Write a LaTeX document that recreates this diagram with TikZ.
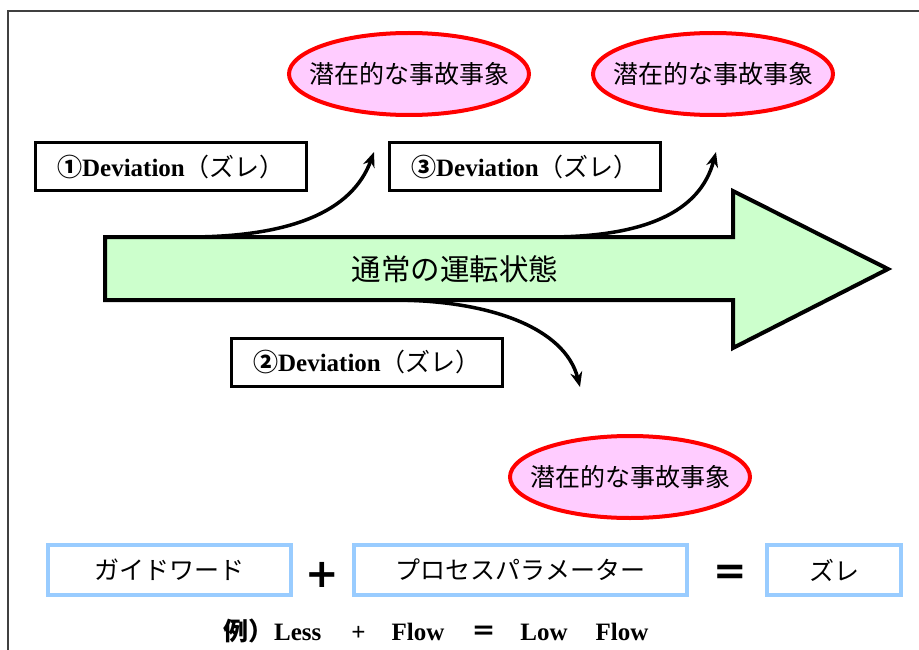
\documentclass[tikz,border=0pt]{standalone}
\usepackage{fontspec}
\setmainfont{Liberation Serif}
\newfontfamily\jp{Noto Sans CJK JP}
\newfontfamily\symfont{DejaVu Sans}
\usetikzlibrary{arrows.meta,shapes.geometric}
\definecolor{evfill}{HTML}{FFCCFF}
\definecolor{flowfill}{HTML}{CCFFCC}
\definecolor{gwblue}{HTML}{99CCFF}
\begin{document}
\begin{tikzpicture}[x=1pt,y=-1pt,
  frameline/.style={line width=1.5pt, draw=black!75},
  devbox/.style={draw=black, line width=3pt, minimum width=271pt, minimum height=48pt,
    inner sep=0pt, font=\fontsize{25}{28}\selectfont\bfseries},
  event/.style={ellipse, draw=red, fill=evfill, line width=4pt, minimum width=240pt,
    minimum height=82pt, inner sep=0pt},
  evtext/.style={inner sep=0pt, font=\jp\fontsize{25}{28}\selectfont},
  gwbox/.style={draw=gwblue, line width=4pt, minimum height=50pt, inner sep=0pt,
    font=\jp\fontsize{25}{28}\selectfont},
  devarrow/.style={line width=3.5pt, -{Stealth[length=15pt,width=12pt]}},
  bigsym/.style={inner sep=0pt, font=\symfont\bfseries\fontsize{40}{40}\selectfont}]
\useasboundingbox (0,0) rectangle (919,650);
% outer frame
\draw[frameline] (8,650) -- (8,11) -- (919,11);

% events
\node[event] (ev1) at (409,74) {};
\node[evtext] at (ev1.center) {潜在的な事故事象};
\node[event] (ev3) at (713,74) {};
\node[evtext] at (ev3.center) {潜在的な事故事象};
\node[event] (ev2) at (630,477) {};
\node[evtext] at (ev2.center) {潜在的な事故事象};

% deviation boxes
\node[devbox] (d1) at (171,167) {{\jp ①}Deviation{\jp\mdseries （ズレ）}};
\node[devbox] (d3) at (525,167) {{\jp ③}Deviation{\jp\mdseries （ズレ）}};
\node[devbox] (d2) at (367,362) {{\jp ②}Deviation{\jp\mdseries （ズレ）}};

% connector coordinates
\coordinate (s1) at (188,237);
\coordinate (e1) at (374,152);
\coordinate (s3) at (548,237);
\coordinate (e3) at (716,152);
\coordinate (s2) at (392,300);
\coordinate (e2) at (580,387);

\draw[devarrow] (s1) .. controls (290,237) and (352,212) .. (e1);
\draw[devarrow] (s3) .. controls (645,237) and (700,212) .. (e3);
\draw[devarrow] (s2) .. controls (490,300) and (565,328) .. (e2);

% main arrow
\draw[line width=4pt, fill=flowfill, line join=miter]
  (105,237) -- (733,237) -- (733,191) -- (888,269) -- (733,348) -- (733,300) -- (105,300) -- cycle;
\node[inner sep=0pt, font=\jp\fontsize{29.5}{31}\selectfont] (normal) at (455,269) {通常の運転状態};

% formula boxes
\node[gwbox, minimum width=243pt] (gw) at (169.5,570) {ガイドワード};
\node[gwbox, minimum width=333pt] (pp) at (520.5,570) {プロセスパラメーター};
\node[gwbox, minimum width=134pt] (dv) at (834,570) {ズレ};
\node[bigsym] (plus) at (322,575) {+};
\node[bigsym] (eq) at (730,575) {=};

% example
\node[anchor=base west, inner sep=0pt, font=\fontsize{25}{28}\selectfont\bfseries] (ex) at (223,640)
  {{\jp 例）}\hspace{1pt}Less\hspace{30pt}+\hspace{26pt}Flow\hspace{27pt}{\jp ＝}\hspace{24pt}Low\hspace{28pt}Flow};
\end{tikzpicture}
\end{document}
